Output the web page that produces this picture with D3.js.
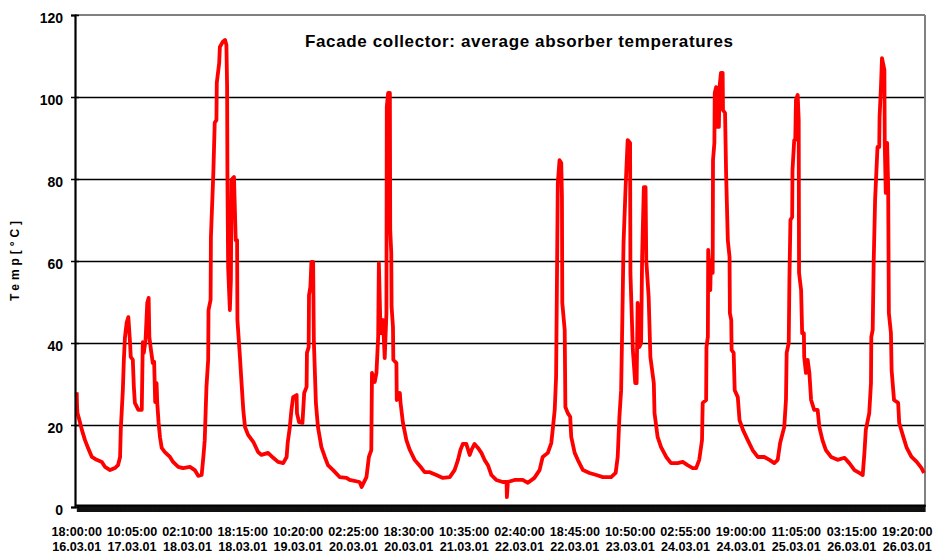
<!DOCTYPE html>
<html>
<head>
<meta charset="utf-8">
<script src="https://cdn.jsdelivr.net/npm/d3@7"></script>
<style>
  body { margin: 0; background: #fff; }
  svg text { font-family: Arial, "Liberation Sans", sans-serif; font-weight: bold; fill: #000; }
</style>
</head>
<body>
<div id="chart"></div>
<script>
// readings: [hours since 16.03.01 18:00, absorber temperature °C]
var day16 = [[0,28.0],[0.1,24.4],[0.2,23.0],[1.0,20.5],[1.5,18.8],[2.4,16.3],[3.3,14.4],[4.4,12.2],[5.8,11.5],[7.3,11.0],[8.2,9.8],[9.7,9.0],[11.1,9.5],[12.0,10.2],[12.6,12.2],[12.8,18.8],[13.4,28.5],[13.7,35.9],[14.0,41.2],[14.5,44.9],[15.0,46.3],[15.5,40.0],[15.7,36.6],[16.3,35.9],[16.6,29.3],[16.9,25.4],[17.9,23.7],[18.9,23.7],[19.0,29.3],[19.2,40.2],[19.5,37.6],[20.0,40.7],[20.5,49.8],[20.9,51.0],[21.1,41.5],[21.5,38.8],[22.1,35.1],[22.5,35.4],[22.8,25.6],[23.2,30.2],[23.4,25.4],[23.8,20.5],[24.2,17.0]];
var day17 = [[24.7,14.4],[25.6,13.4],[27.1,12.2],[28.0,11.0],[29.5,9.8],[30.9,9.5],[32.9,9.8],[34.3,9.0],[35.3,7.6],[36.3,7.8],[36.8,12.2],[37.2,16.3],[37.7,29.3],[38.2,35.9],[38.3,48.0],[38.9,50.5],[39.0,65.9],[39.7,81.5],[40.1,93.7],[40.6,94.4],[40.7,103.4],[41.4,108.3],[41.6,112.2],[42.4,113.4],[43.1,113.9],[43.5,112.7],[43.7,102.4],[43.8,79.8],[44.0,58.5],[44.5,48.0],[44.8,55.4],[45.0,79.8],[45.7,80.5],[46.2,65.1],[46.6,65.1],[46.7,45.6],[47.4,37.0],[47.9,30.2],[48.4,23.7],[48.9,19.5]];
var day18 = [[49.8,17.6],[51.3,15.9],[52.7,13.4],[53.7,12.7],[55.6,13.2],[57.1,12.0],[58.5,11.0],[60.0,10.7],[61.0,12.2],[61.3,15.6],[61.9,19.3],[62.4,23.7],[62.9,26.8],[63.9,27.3],[64.0,22.9],[64.6,20.7],[65.6,20.5],[66.1,27.8],[66.8,29.3],[66.9,37.6],[67.4,39.0],[67.5,51.7],[67.9,53.7],[68.2,59.8],[68.7,59.8],[68.9,40.7],[69.5,25.4],[70.1,19.5],[71.1,14.6],[72.1,12.2],[73.0,10.2]];
var day19 = [[74.5,9.0],[76.4,7.3],[78.4,7.1],[79.3,6.6],[82.2,6.1],[82.8,4.9],[84.2,7.3],[84.9,12.2],[85.6,13.9],[85.8,32.7],[86.6,30.5],[87.1,32.7],[87.6,41.5],[87.8,59.5],[88.3,42.4],[89.0,45.6],[89.5,36.3],[90.0,47.3],[90.1,97.6],[90.5,101.0],[91.0,101.0],[91.1,67.6],[91.4,62.0],[91.5,48.8],[91.9,43.9],[92.0,35.9],[92.9,35.1],[93.0,26.1],[93.9,27.8],[94.1,25.4],[94.8,20.5],[95.8,16.3],[96.8,13.9]];
var day20 = [[98.2,11.5],[100.2,9.5],[101.1,8.5],[102.6,8.5],[104.5,7.8],[106.4,7.1],[108.4,7.3],[109.8,9.0],[110.8,11.5],[111.5,13.9],[112.2,15.4],[113.2,15.4],[114.2,12.7],[114.7,13.9],[115.6,15.4],[116.6,14.4],[117.6,13.2],[118.5,11.5],[119.5,10.2],[120.5,7.8]];
var day21 = [[121.9,6.6],[123.8,6.1],[124.9,6.1],[125.0,2.4],[125.3,6.1],[127.2,6.6],[129.6,6.6],[131.1,5.9],[133.0,7.1],[134.5,9.0],[135.4,12.2],[136.9,13.2],[137.9,15.6],[138.4,19.5],[138.9,23.7],[139.3,31.7],[139.8,79.0],[140.3,84.6],[140.8,83.9],[141.0,75.6],[141.1,49.8],[141.8,43.2],[142.0,24.4],[142.7,22.9],[143.4,22.0],[143.7,17.1],[144.7,13.2]];
var day22 = [[145.6,11.5],[147.1,9.0],[149.0,8.3],[151.0,7.8],[152.9,7.3],[155.3,7.3],[156.6,8.3],[157.2,12.2],[157.7,22.0],[158.2,28.5],[158.5,43.2],[158.9,64.4],[159.5,78.0],[160.1,89.5],[160.8,88.8],[160.9,57.1],[161.6,38.3],[162.3,30.2],[162.7,30.2],[163.0,49.8],[163.5,39.0],[164.0,40.0],[164.3,61.0],[164.8,78.0],[165.3,78.0],[165.5,60.2],[166.2,51.2],[166.7,36.6],[167.7,30.2],[167.9,22.9],[168.8,17.1]];
var day23 = [[169.8,14.6],[171.3,12.2],[172.7,10.7],[174.6,10.7],[176.1,11.0],[177.5,10.2],[179.0,9.5],[180.0,9.5],[180.9,11.5],[181.7,16.3],[181.9,25.4],[182.9,26.1],[183.0,39.0],[183.4,41.5],[183.5,62.7],[184.1,52.9],[184.3,60.2],[184.8,57.1],[184.9,84.6],[185.3,88.8],[185.4,101.0],[185.8,102.4],[186.0,92.7],[186.6,92.7],[186.8,102.4],[187.2,105.9],[187.7,105.9],[187.8,96.8],[188.4,96.1],[188.7,81.5],[189.2,65.1],[189.7,61.0],[189.8,47.3],[190.2,45.6],[190.3,38.3],[190.9,37.6],[191.2,28.5],[192.1,26.8],[192.6,21.2]];
var day24 = [[193.6,18.8],[195.0,16.3],[196.4,13.9],[197.9,12.2],[199.8,12.2],[201.3,11.5],[202.7,10.7],[203.7,11.5],[204.4,15.6],[205.6,19.5],[206.1,26.1],[206.3,37.6],[206.9,40.0],[207.1,55.4],[207.4,70.0],[207.9,70.7],[208.0,82.2],[208.5,89.5],[208.8,89.5],[209.0,99.3],[209.5,100.5],[209.8,94.4],[209.9,57.1],[210.5,52.9],[210.8,42.4],[211.3,42.4],[211.4,36.6],[211.9,32.7],[212.4,35.9],[212.9,32.7],[213.4,26.1],[214.3,23.7],[215.3,23.7],[215.8,19.5],[216.7,16.3]];
var day25 = [[217.7,13.9],[219.2,12.2],[221.1,11.5],[223.1,12.0],[224.5,10.7],[226.0,9.0],[227.4,8.3],[228.4,7.8],[228.9,13.2],[229.3,18.8],[230.3,22.9],[230.8,30.2],[230.9,41.5],[231.3,43.2],[231.6,60.2],[232.0,74.9],[232.7,87.8],[233.2,87.8],[233.3,95.1],[233.7,102.4],[234.0,109.5],[234.7,106.6],[234.8,88.8],[235.1,76.6],[235.5,88.8],[235.8,78.0],[236.0,47.3],[236.6,42.4],[236.8,33.4],[237.5,26.1],[238.7,25.4],[239.0,20.5],[240.2,17.1],[241.2,14.4],[242.6,12.2],[244.1,11.0],[245.5,9.5],[246.2,8.3]];

var tickLabels = ["18:00:00 16.03.01", "10:05:00 17.03.01", "02:10:00 18.03.01", "18:15:00 18.03.01",
  "10:20:00 19.03.01", "02:25:00 20.03.01", "18:30:00 20.03.01", "10:35:00 21.03.01",
  "02:40:00 22.03.01", "18:45:00 22.03.01", "10:50:00 23.03.01", "02:55:00 24.03.01",
  "19:00:00 24.03.01", "11:05:00 25.03.01", "03:15:00 26.03.01", "19:20:00 26.03.01"];
var yTicks = [0, 20, 40, 60, 80, 100, 120];

var svgWidth = 935, svgHeight = 554;
var margin = { top: 15, right: 10, bottom: 47, left: 75 };
var width = svgWidth - margin.left - margin.right;
var height = svgHeight - margin.top - margin.bottom;

var parseTick = d3.timeParse("%H:%M:%S %d.%m.%y");
var tickDates = tickLabels.map(parseTick);
var t0 = tickDates[0];
var hour = 3600 * 1000;

var readings = [].concat(day16, day17, day18, day19, day20, day21, day22, day23, day24, day25)
  .map(function(d) { return { date: new Date(+t0 + d[0] * hour), temp: d[1] }; });

var svg = d3.select("#chart").append("svg")
  .attr("width", svgWidth)
  .attr("height", svgHeight);

var chartGroup = svg.append("g")
  .attr("transform", `translate(${margin.left}, ${margin.top})`);

var x = d3.scaleTime()
  .domain([new Date(+t0 - 0.5 * hour), new Date(+t0 + 246.5 * hour)])
  .range([0, width]);

var y = d3.scaleLinear()
  .domain([0, 120])
  .range([height, 0]);

// horizontal grid lines
chartGroup.append("g")
  .call(d3.axisLeft(y).tickValues(yTicks.slice(1, -1)).tickSize(-width).tickFormat(""))
  .call(g => g.select(".domain").remove())
  .selectAll("line")
  .attr("stroke", "#000")
  .attr("stroke-width", 1.6);

// top and right frame
chartGroup.append("line")
  .attr("x1", 0).attr("x2", width)
  .attr("y1", y(120)).attr("y2", y(120))
  .attr("stroke", "#808080").attr("stroke-width", 2);
chartGroup.append("line")
  .attr("x1", width).attr("x2", width)
  .attr("y1", y(120)).attr("y2", y(0))
  .attr("stroke", "#808080").attr("stroke-width", 2);

// temperature line
var line = d3.line()
  .x(d => x(d.date))
  .y(d => y(d.temp));

chartGroup.append("path")
  .datum(readings)
  .attr("fill", "none")
  .attr("stroke", "#ff0000")
  .attr("stroke-width", 3.8)
  .attr("stroke-linejoin", "round")
  .attr("d", line);

// y axis
var yAxis = chartGroup.append("g")
  .call(d3.axisLeft(y).tickValues(yTicks).tickSize(4).tickPadding(8));
yAxis.select(".domain").attr("stroke-width", 2.2);
yAxis.selectAll(".tick line").attr("x1", 4).attr("stroke-width", 1.5);
yAxis.selectAll(".tick text")
  .attr("font-size", "14px")
  .attr("dy", "0.55em")
  .style("font-family", "Arial, 'Liberation Sans', sans-serif")
  .style("font-weight", "bold");

// x axis: one tick per 5-minute category makes the solid band
var categoryTicks = d3.timeMinute.every(5).range(t0, x.domain()[1]);
var xAxis = chartGroup.append("g")
  .attr("transform", `translate(0, ${height - 2})`)
  .call(d3.axisBottom(x).tickValues(categoryTicks).tickSize(7).tickSizeOuter(0).tickFormat(""));
xAxis.select(".domain").attr("stroke-width", 2);
xAxis.selectAll(".tick line").attr("stroke-width", 0.6);

// x tick labels (two lines each)
var labelGroup = chartGroup.append("g");
labelGroup.selectAll("text")
  .data(tickLabels)
  .enter()
  .append("text")
  .attr("text-anchor", "middle")
  .attr("font-size", "12.6px")
  .attr("transform", (d, i) => `translate(${x(tickDates[i])}, ${height + 29})`)
  .each(function(d) {
    var parts = d.split(" ");
    d3.select(this).append("tspan").attr("x", 0).attr("y", 0).text(parts[0]);
    d3.select(this).append("tspan").attr("x", 0).attr("y", 15).text(parts[1]);
  });

// axis title
svg.append("text")
  .attr("transform", "translate(19, 261) rotate(-90)")
  .attr("text-anchor", "middle")
  .attr("font-size", "12px")
  .attr("textLength", 80)
  .attr("lengthAdjust", "spacing")
  .text("Temp[°C]");

// chart title
svg.append("text")
  .attr("x", 519)
  .attr("y", 47)
  .attr("text-anchor", "middle")
  .attr("font-size", "17px")
  .attr("textLength", 428)
  .attr("lengthAdjust", "spacing")
  .text("Facade collector: average absorber temperatures");
</script>
</body>
</html>
